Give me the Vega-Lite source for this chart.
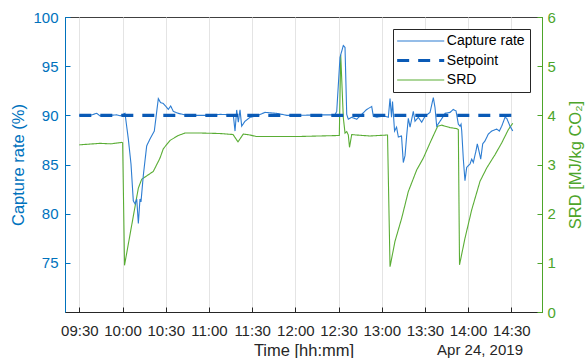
{
  "$schema": "https://vega.github.io/schema/vega-lite/v6.json",
  "width": 477,
  "height": 295,
  "autosize": {"type": "none"},
  "padding": {"left": 65, "top": 17, "right": 46, "bottom": 46},
  "background": "white",
  "config": {
    "font": "Liberation Sans",
    "view": {"stroke": "#404040", "strokeWidth": 1},
    "axis": {"labelFont": "Liberation Sans", "titleFont": "Liberation Sans", "labelFontSize": 15, "titleFontSize": 16.5, "titleFontWeight": "normal", "tickSize": -5, "tickWidth": 1, "domainWidth": 1},
    "legend": {"orient": "top-right", "offset": 12, "symbolType": "M-1,0H5", "symbolSize": 246, "labelOffset": 34.8, "labelFont": "Liberation Sans", "labelFontSize": 14, "labelColor": "#000000", "strokeColor": "#262626", "fillColor": "#ffffff", "padding": 5, "rowPadding": 5.5, "symbolStrokeWidth": {"expr": "datum.value === 'Setpoint' ? 3.2 : 1.1"}}
  },
  "title": {"text": "Apr 24, 2019", "orient": "bottom", "anchor": "end", "frame": "group", "fontSize": 15, "fontWeight": "normal", "font": "Liberation Sans", "color": "#262626", "offset": -15.5, "dx": -19},
  "datasets": {
    "left": [
      {"t": "2019-04-24T09:30:00", "s": "Capture rate", "v": 90.0},
      {"t": "2019-04-24T09:37:26", "s": "Capture rate", "v": 90.0},
      {"t": "2019-04-24T09:42:05", "s": "Capture rate", "v": 90.2},
      {"t": "2019-04-24T09:44:24", "s": "Capture rate", "v": 89.95},
      {"t": "2019-04-24T09:51:19", "s": "Capture rate", "v": 90.0},
      {"t": "2019-04-24T09:56:00", "s": "Capture rate", "v": 90.05},
      {"t": "2019-04-24T09:58:18", "s": "Capture rate", "v": 89.95},
      {"t": "2019-04-24T10:01:44", "s": "Capture rate", "v": 90.2},
      {"t": "2019-04-24T10:04:02", "s": "Capture rate", "v": 87.6},
      {"t": "2019-04-24T10:05:54", "s": "Capture rate", "v": 85.05},
      {"t": "2019-04-24T10:07:30", "s": "Capture rate", "v": 81.3},
      {"t": "2019-04-24T10:08:41", "s": "Capture rate", "v": 81.0},
      {"t": "2019-04-24T10:09:52", "s": "Capture rate", "v": 81.5},
      {"t": "2019-04-24T10:11:00", "s": "Capture rate", "v": 79.0},
      {"t": "2019-04-24T10:12:09", "s": "Capture rate", "v": 81.5},
      {"t": "2019-04-24T10:12:50", "s": "Capture rate", "v": 81.2},
      {"t": "2019-04-24T10:14:27", "s": "Capture rate", "v": 83.9},
      {"t": "2019-04-24T10:16:48", "s": "Capture rate", "v": 86.9},
      {"t": "2019-04-24T10:19:06", "s": "Capture rate", "v": 87.6},
      {"t": "2019-04-24T10:22:05", "s": "Capture rate", "v": 88.4},
      {"t": "2019-04-24T10:24:52", "s": "Capture rate", "v": 91.7},
      {"t": "2019-04-24T10:26:24", "s": "Capture rate", "v": 91.3},
      {"t": "2019-04-24T10:28:20", "s": "Capture rate", "v": 91.2},
      {"t": "2019-04-24T10:30:12", "s": "Capture rate", "v": 90.9},
      {"t": "2019-04-24T10:31:48", "s": "Capture rate", "v": 90.6},
      {"t": "2019-04-24T10:33:28", "s": "Capture rate", "v": 90.95},
      {"t": "2019-04-24T10:35:17", "s": "Capture rate", "v": 90.4},
      {"t": "2019-04-24T10:38:45", "s": "Capture rate", "v": 90.2},
      {"t": "2019-04-24T10:44:35", "s": "Capture rate", "v": 90.0},
      {"t": "2019-04-24T10:49:10", "s": "Capture rate", "v": 90.0},
      {"t": "2019-04-24T11:00:46", "s": "Capture rate", "v": 90.0},
      {"t": "2019-04-24T11:07:42", "s": "Capture rate", "v": 90.1},
      {"t": "2019-04-24T11:16:56", "s": "Capture rate", "v": 90.05},
      {"t": "2019-04-24T11:18:08", "s": "Capture rate", "v": 88.4},
      {"t": "2019-04-24T11:19:18", "s": "Capture rate", "v": 90.55},
      {"t": "2019-04-24T11:20:25", "s": "Capture rate", "v": 89.3},
      {"t": "2019-04-24T11:21:36", "s": "Capture rate", "v": 90.55},
      {"t": "2019-04-24T11:22:46", "s": "Capture rate", "v": 88.9},
      {"t": "2019-04-24T11:25:04", "s": "Capture rate", "v": 89.4},
      {"t": "2019-04-24T11:28:32", "s": "Capture rate", "v": 89.8},
      {"t": "2019-04-24T11:33:11", "s": "Capture rate", "v": 89.95},
      {"t": "2019-04-24T11:38:57", "s": "Capture rate", "v": 90.3},
      {"t": "2019-04-24T11:47:05", "s": "Capture rate", "v": 90.2},
      {"t": "2019-04-24T11:54:02", "s": "Capture rate", "v": 90.0},
      {"t": "2019-04-24T12:03:16", "s": "Capture rate", "v": 90.0},
      {"t": "2019-04-24T12:17:09", "s": "Capture rate", "v": 90.05},
      {"t": "2019-04-24T12:27:34", "s": "Capture rate", "v": 90.05},
      {"t": "2019-04-24T12:28:45", "s": "Capture rate", "v": 90.4},
      {"t": "2019-04-24T12:31:02", "s": "Capture rate", "v": 95.9},
      {"t": "2019-04-24T12:33:20", "s": "Capture rate", "v": 97.1},
      {"t": "2019-04-24T12:34:31", "s": "Capture rate", "v": 96.9},
      {"t": "2019-04-24T12:35:42", "s": "Capture rate", "v": 90.1},
      {"t": "2019-04-24T12:36:48", "s": "Capture rate", "v": 89.6},
      {"t": "2019-04-24T12:39:10", "s": "Capture rate", "v": 89.8},
      {"t": "2019-04-24T12:42:38", "s": "Capture rate", "v": 89.6},
      {"t": "2019-04-24T12:46:06", "s": "Capture rate", "v": 90.1},
      {"t": "2019-04-24T12:49:35", "s": "Capture rate", "v": 90.6},
      {"t": "2019-04-24T12:53:03", "s": "Capture rate", "v": 90.9},
      {"t": "2019-04-24T12:54:10", "s": "Capture rate", "v": 89.9},
      {"t": "2019-04-24T12:56:31", "s": "Capture rate", "v": 89.8},
      {"t": "2019-04-24T13:01:07", "s": "Capture rate", "v": 89.95},
      {"t": "2019-04-24T13:04:35", "s": "Capture rate", "v": 89.8},
      {"t": "2019-04-24T13:05:46", "s": "Capture rate", "v": 91.7},
      {"t": "2019-04-24T13:06:49", "s": "Capture rate", "v": 89.8},
      {"t": "2019-04-24T13:07:30", "s": "Capture rate", "v": 91.4},
      {"t": "2019-04-24T13:08:55", "s": "Capture rate", "v": 88.4},
      {"t": "2019-04-24T13:10:18", "s": "Capture rate", "v": 88.8},
      {"t": "2019-04-24T13:11:33", "s": "Capture rate", "v": 87.8},
      {"t": "2019-04-24T13:13:45", "s": "Capture rate", "v": 87.9},
      {"t": "2019-04-24T13:15:00", "s": "Capture rate", "v": 85.2},
      {"t": "2019-04-24T13:16:11", "s": "Capture rate", "v": 85.9},
      {"t": "2019-04-24T13:17:22", "s": "Capture rate", "v": 88.0},
      {"t": "2019-04-24T13:18:28", "s": "Capture rate", "v": 89.7},
      {"t": "2019-04-24T13:19:40", "s": "Capture rate", "v": 88.8},
      {"t": "2019-04-24T13:21:57", "s": "Capture rate", "v": 90.4},
      {"t": "2019-04-24T13:23:07", "s": "Capture rate", "v": 89.4},
      {"t": "2019-04-24T13:25:25", "s": "Capture rate", "v": 89.8},
      {"t": "2019-04-24T13:27:46", "s": "Capture rate", "v": 89.3},
      {"t": "2019-04-24T13:30:04", "s": "Capture rate", "v": 89.9},
      {"t": "2019-04-24T13:33:33", "s": "Capture rate", "v": 90.3},
      {"t": "2019-04-24T13:35:50", "s": "Capture rate", "v": 91.8},
      {"t": "2019-04-24T13:37:00", "s": "Capture rate", "v": 90.8},
      {"t": "2019-04-24T13:38:10", "s": "Capture rate", "v": 88.9},
      {"t": "2019-04-24T13:40:29", "s": "Capture rate", "v": 89.4},
      {"t": "2019-04-24T13:42:47", "s": "Capture rate", "v": 89.9},
      {"t": "2019-04-24T13:43:55", "s": "Capture rate", "v": 90.2},
      {"t": "2019-04-24T13:47:26", "s": "Capture rate", "v": 90.3},
      {"t": "2019-04-24T13:49:43", "s": "Capture rate", "v": 90.6},
      {"t": "2019-04-24T13:51:36", "s": "Capture rate", "v": 90.45},
      {"t": "2019-04-24T13:53:12", "s": "Capture rate", "v": 89.1},
      {"t": "2019-04-24T13:54:23", "s": "Capture rate", "v": 88.9},
      {"t": "2019-04-24T13:55:05", "s": "Capture rate", "v": 89.1},
      {"t": "2019-04-24T13:55:34", "s": "Capture rate", "v": 88.4},
      {"t": "2019-04-24T13:56:40", "s": "Capture rate", "v": 85.55},
      {"t": "2019-04-24T13:57:49", "s": "Capture rate", "v": 83.35},
      {"t": "2019-04-24T13:59:00", "s": "Capture rate", "v": 84.7},
      {"t": "2019-04-24T14:01:18", "s": "Capture rate", "v": 85.05},
      {"t": "2019-04-24T14:02:30", "s": "Capture rate", "v": 85.55},
      {"t": "2019-04-24T14:03:36", "s": "Capture rate", "v": 85.2},
      {"t": "2019-04-24T14:05:29", "s": "Capture rate", "v": 86.4},
      {"t": "2019-04-24T14:06:23", "s": "Capture rate", "v": 87.1},
      {"t": "2019-04-24T14:07:47", "s": "Capture rate", "v": 86.2},
      {"t": "2019-04-24T14:08:45", "s": "Capture rate", "v": 85.55},
      {"t": "2019-04-24T14:10:08", "s": "Capture rate", "v": 87.1},
      {"t": "2019-04-24T14:11:44", "s": "Capture rate", "v": 87.4},
      {"t": "2019-04-24T14:14:02", "s": "Capture rate", "v": 88.1},
      {"t": "2019-04-24T14:16:23", "s": "Capture rate", "v": 88.4},
      {"t": "2019-04-24T14:19:51", "s": "Capture rate", "v": 88.6},
      {"t": "2019-04-24T14:21:40", "s": "Capture rate", "v": 88.4},
      {"t": "2019-04-24T14:23:20", "s": "Capture rate", "v": 88.9},
      {"t": "2019-04-24T14:25:38", "s": "Capture rate", "v": 89.8},
      {"t": "2019-04-24T14:26:48", "s": "Capture rate", "v": 89.7},
      {"t": "2019-04-24T14:29:05", "s": "Capture rate", "v": 88.9},
      {"t": "2019-04-24T14:31:00", "s": "Capture rate", "v": 88.4},
      {"t": "2019-04-24T09:30:00", "s": "Setpoint", "v": 90},
      {"t": "2019-04-24T14:31:00", "s": "Setpoint", "v": 90}
    ],
    "right": [
      {"t": "2019-04-24T09:30:00", "s": "SRD", "v": 3.40},
      {"t": "2019-04-24T09:44:24", "s": "SRD", "v": 3.43},
      {"t": "2019-04-24T09:52:00", "s": "SRD", "v": 3.42},
      {"t": "2019-04-24T09:59:26", "s": "SRD", "v": 3.45},
      {"t": "2019-04-24T10:00:06", "s": "SRD", "v": 3.44},
      {"t": "2019-04-24T10:01:24", "s": "SRD", "v": 0.95},
      {"t": "2019-04-24T10:11:00", "s": "SRD", "v": 2.52},
      {"t": "2019-04-24T10:13:20", "s": "SRD", "v": 2.70},
      {"t": "2019-04-24T10:21:24", "s": "SRD", "v": 2.86},
      {"t": "2019-04-24T10:26:02", "s": "SRD", "v": 3.13},
      {"t": "2019-04-24T10:28:20", "s": "SRD", "v": 3.32},
      {"t": "2019-04-24T10:33:00", "s": "SRD", "v": 3.49},
      {"t": "2019-04-24T10:38:45", "s": "SRD", "v": 3.59},
      {"t": "2019-04-24T10:43:24", "s": "SRD", "v": 3.64},
      {"t": "2019-04-24T10:54:00", "s": "SRD", "v": 3.64},
      {"t": "2019-04-24T11:07:42", "s": "SRD", "v": 3.63},
      {"t": "2019-04-24T11:16:44", "s": "SRD", "v": 3.61},
      {"t": "2019-04-24T11:20:12", "s": "SRD", "v": 3.46},
      {"t": "2019-04-24T11:23:53", "s": "SRD", "v": 3.62},
      {"t": "2019-04-24T11:28:32", "s": "SRD", "v": 3.60},
      {"t": "2019-04-24T11:32:42", "s": "SRD", "v": 3.57},
      {"t": "2019-04-24T12:03:16", "s": "SRD", "v": 3.57},
      {"t": "2019-04-24T12:30:33", "s": "SRD", "v": 3.59},
      {"t": "2019-04-24T12:31:32", "s": "SRD", "v": 5.23},
      {"t": "2019-04-24T12:33:20", "s": "SRD", "v": 3.95},
      {"t": "2019-04-24T12:34:31", "s": "SRD", "v": 3.64},
      {"t": "2019-04-24T12:35:42", "s": "SRD", "v": 3.67},
      {"t": "2019-04-24T12:36:48", "s": "SRD", "v": 3.60},
      {"t": "2019-04-24T12:37:38", "s": "SRD", "v": 3.35},
      {"t": "2019-04-24T12:39:10", "s": "SRD", "v": 3.61},
      {"t": "2019-04-24T12:42:09", "s": "SRD", "v": 3.60},
      {"t": "2019-04-24T12:51:53", "s": "SRD", "v": 3.58},
      {"t": "2019-04-24T13:04:02", "s": "SRD", "v": 3.60},
      {"t": "2019-04-24T13:05:46", "s": "SRD", "v": 0.92},
      {"t": "2019-04-24T13:09:14", "s": "SRD", "v": 1.44},
      {"t": "2019-04-24T13:13:53", "s": "SRD", "v": 1.91},
      {"t": "2019-04-24T13:18:28", "s": "SRD", "v": 2.45},
      {"t": "2019-04-24T13:24:18", "s": "SRD", "v": 2.89},
      {"t": "2019-04-24T13:28:53", "s": "SRD", "v": 3.13},
      {"t": "2019-04-24T13:33:33", "s": "SRD", "v": 3.44},
      {"t": "2019-04-24T13:38:53", "s": "SRD", "v": 3.78},
      {"t": "2019-04-24T13:41:40", "s": "SRD", "v": 3.80},
      {"t": "2019-04-24T13:47:26", "s": "SRD", "v": 3.75},
      {"t": "2019-04-24T13:52:05", "s": "SRD", "v": 3.73},
      {"t": "2019-04-24T13:53:12", "s": "SRD", "v": 3.71},
      {"t": "2019-04-24T13:54:02", "s": "SRD", "v": 0.96},
      {"t": "2019-04-24T13:57:49", "s": "SRD", "v": 1.50},
      {"t": "2019-04-24T14:02:30", "s": "SRD", "v": 2.08},
      {"t": "2019-04-24T14:08:16", "s": "SRD", "v": 2.66},
      {"t": "2019-04-24T14:12:55", "s": "SRD", "v": 2.93},
      {"t": "2019-04-24T14:18:40", "s": "SRD", "v": 3.20},
      {"t": "2019-04-24T14:23:20", "s": "SRD", "v": 3.44},
      {"t": "2019-04-24T14:27:56", "s": "SRD", "v": 3.71},
      {"t": "2019-04-24T14:31:00", "s": "SRD", "v": 3.84}
    ]
  },
  "encoding": {
    "x": {
      "field": "t", "type": "temporal",
      "scale": {"domain": [{"year": 2019, "month": 4, "date": 24, "hours": 9, "minutes": 20, "seconds": 4}, {"year": 2019, "month": 4, "date": 24, "hours": 14, "minutes": 51, "seconds": 18}]},
      "axis": {"title": "Time [hh:mm]", "format": "%H:%M",
        "values": [
          {"year": 2019, "month": 4, "date": 24, "hours": 9, "minutes": 30},
          {"year": 2019, "month": 4, "date": 24, "hours": 10, "minutes": 0},
          {"year": 2019, "month": 4, "date": 24, "hours": 10, "minutes": 30},
          {"year": 2019, "month": 4, "date": 24, "hours": 11, "minutes": 0},
          {"year": 2019, "month": 4, "date": 24, "hours": 11, "minutes": 30},
          {"year": 2019, "month": 4, "date": 24, "hours": 12, "minutes": 0},
          {"year": 2019, "month": 4, "date": 24, "hours": 12, "minutes": 30},
          {"year": 2019, "month": 4, "date": 24, "hours": 13, "minutes": 0},
          {"year": 2019, "month": 4, "date": 24, "hours": 13, "minutes": 30},
          {"year": 2019, "month": 4, "date": 24, "hours": 14, "minutes": 0},
          {"year": 2019, "month": 4, "date": 24, "hours": 14, "minutes": 30}
        ],
        "labelColor": "#262626", "titleColor": "#262626", "domainColor": "#262626", "tickColor": "#262626", "gridColor": "#E4E4E4", "labelPadding": 16.5, "titlePadding": 3.5, "labelFlush": false, "labelOverlap": false}
    },
    "color": {"field": "s", "type": "nominal", "title": null, "scale": {"domain": ["Capture rate", "Setpoint", "SRD"], "range": ["#2D7DD2", "#0A5AB6", "#5AAD35"]}},
    "strokeDash": {"field": "s", "type": "nominal", "title": null, "scale": {"domain": ["Capture rate", "Setpoint", "SRD"], "range": [[1, 0], [12, 9], [1, 0]]}},
    "strokeWidth": {"condition": {"test": "datum.s === 'Setpoint'", "value": 3.2}, "value": 1.1}
  },
  "layer": [
    {
      "data": {"name": "right"},
      "mark": {"type": "line", "clip": true},
      "encoding": {
        "y": {"field": "v", "type": "quantitative", "scale": {"domain": [0, 6], "nice": false},
          "axis": {"orient": "right", "title": "SRD [MJ/kg CO₂]", "titleAngle": 270, "titleBaseline": "top", "values": [0, 1, 2, 3, 4, 5, 6], "grid": false, "labelColor": "#4DA52A", "titleColor": "#4DA52A", "domainColor": "#4DA52A", "tickColor": "#4DA52A", "labelPadding": 10, "titlePadding": 12}}
      }
    },
    {
      "data": {"name": "left"},
      "mark": {"type": "line", "clip": true},
      "encoding": {
        "y": {"field": "v", "type": "quantitative", "scale": {"domain": [70, 100], "nice": false},
          "axis": {"orient": "left", "title": "Capture rate (%)", "values": [75, 80, 85, 90, 95, 100], "labelColor": "#0072BD", "titleColor": "#0072BD", "domainColor": "#0072BD", "tickColor": "#0072BD", "gridColor": "#D6E4F2", "labelPadding": 12, "titlePadding": 6}}
      }
    }
  ],
  "resolve": {"scale": {"y": "independent"}, "axis": {"y": "independent"}}
}
